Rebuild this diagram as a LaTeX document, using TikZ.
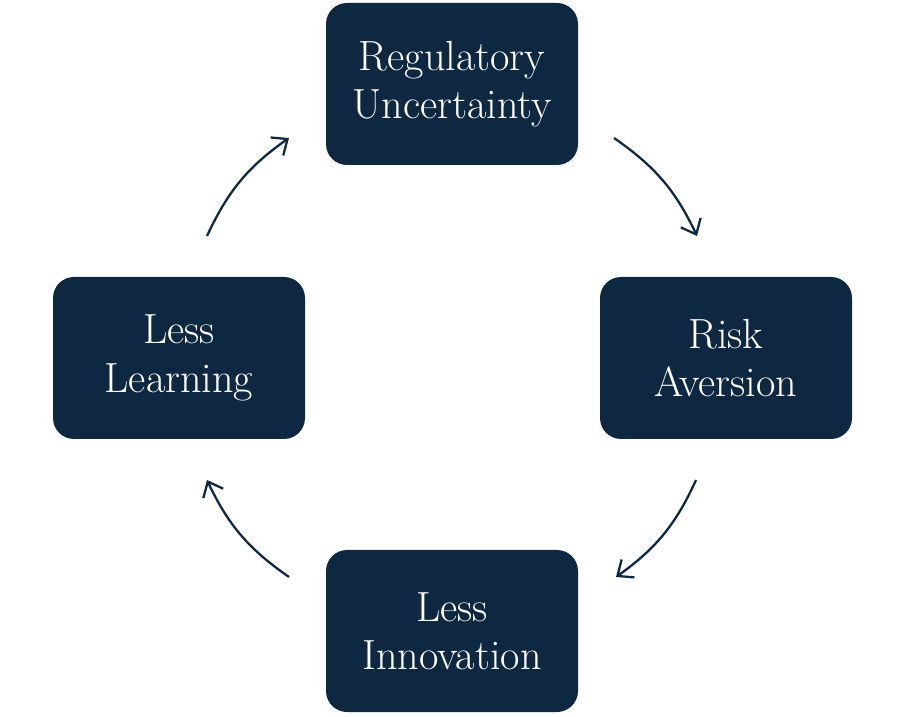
\documentclass[tikz,border=0pt]{standalone}
\usetikzlibrary{arrows.meta}
\definecolor{navy}{RGB}{15,40,66}

\begin{document}
\begin{tikzpicture}[
    stage/.style={rectangle, rounded corners=0.42cm, fill=navy, text=white, minimum width=5.04cm, minimum height=3.24cm, align=center, font=\fontsize{24}{27.5}\selectfont},
    cycle/.style={-{Straight Barb[length=2.6mm, width=4.4mm]}, draw=navy, line width=1.3pt, bend left=15}
]
\useasboundingbox (0,0) rectangle (18.08,14.32);

% Stages of the cycle
\node[stage] (regu) at (9.04,12.64) {Regulatory\\Uncertainty};
\node[stage] (risk) at (14.52,7.16) {Risk\\Aversion};
\node[stage] (innov) at (9.04,1.70) {Less\\Innovation};
\node[stage] (learn) at (3.58,7.16) {Less\\Learning};

% Arrow end points
\coordinate (a1s) at (12.28,11.56);
\coordinate (a1e) at (13.94,9.60);
\coordinate (a2s) at (13.92,4.72);
\coordinate (a2e) at (12.32,2.78);
\coordinate (a3s) at (5.78,2.78);
\coordinate (a3e) at (4.14,4.72);
\coordinate (a4s) at (4.14,9.60);
\coordinate (a4e) at (5.78,11.56);

% Cycle arrows
\draw[cycle] (a1s) to (a1e);
\draw[cycle] (a2s) to (a2e);
\draw[cycle] (a3s) to (a3e);
\draw[cycle] (a4s) to (a4e);

\end{tikzpicture}
\end{document}
